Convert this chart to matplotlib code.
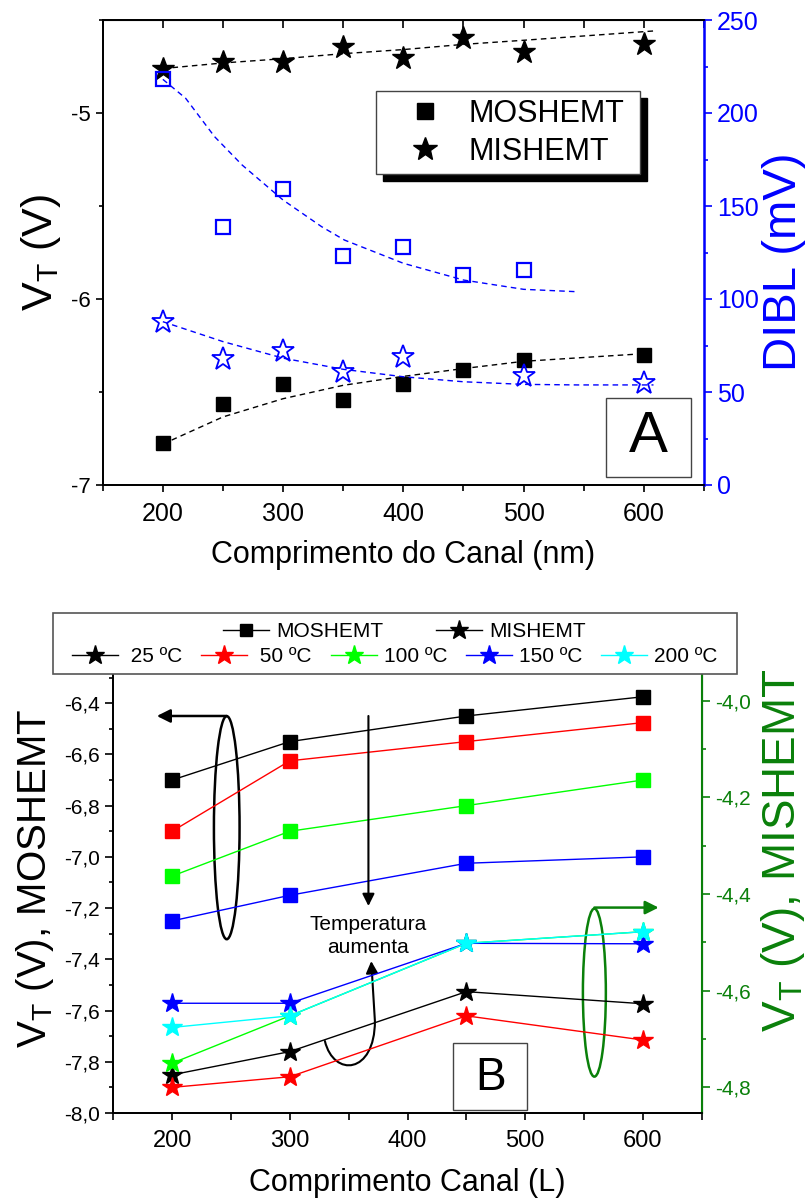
import matplotlib
matplotlib.use('Agg')
import matplotlib.pyplot as plt
from matplotlib.patches import Ellipse, Rectangle, FancyArrowPatch
from matplotlib.path import Path
from matplotlib.ticker import MultipleLocator, FuncFormatter, NullFormatter
from matplotlib.lines import Line2D

plt.rcParams['font.family'] = ['Liberation Sans', 'DejaVu Sans']
plt.rcParams['mathtext.fontset'] = 'custom'
plt.rcParams['mathtext.rm'] = 'Liberation Sans'
plt.rcParams['mathtext.it'] = 'Liberation Sans'

# ---------------- painel A ----------------
L_a = [200, 250, 300, 350, 400, 450, 500, 600]
vt_mos = [-6.774, -6.563, -6.455, -6.541, -6.455, -6.383, -6.326, -6.303]
vt_mis = [-4.761, -4.726, -4.726, -4.645, -4.702, -4.597, -4.672, -4.627]

L_dibl_mos = [200, 250, 300, 350, 400, 450, 500]
dibl_mos = [218.1, 138.5, 158.9, 123.1, 128.1, 112.9, 115.6]
L_dibl_mis = [200, 250, 300, 350, 400, 500, 600]
dibl_mis = [87.8, 67.6, 72.3, 60.6, 69.0, 58.6, 55.0]

# curvas de ajuste
fit_vt_mis_x = [200, 250, 300, 350, 400, 450, 500, 608]
fit_vt_mis_y = [-4.761, -4.731, -4.708, -4.681, -4.659, -4.631, -4.609, -4.559]
fit_vt_mos_x = [200, 250, 300, 350, 400, 450, 500, 600, 605]
fit_vt_mos_y = [-6.78, -6.634, -6.536, -6.464, -6.416, -6.374, -6.335, -6.294, -6.290]
fit_dibl_mos_x = [200, 219, 243, 266, 300, 332, 351, 400, 450, 500, 545]
fit_dibl_mos_y = [218.1, 207.9, 187.3, 172.0, 153.2, 138.9, 131.7, 119.2, 110.2, 105.2, 103.9]
fit_dibl_mis_x = [200, 250, 300, 350, 400, 450, 500, 545, 608]
fit_dibl_mis_y = [87.8, 77.1, 68.2, 62.2, 58.2, 55.5, 54.1, 53.8, 53.8]

# ---------------- painel B ----------------
L_b = [200, 300, 450, 600]
temps = ['25', '50', '100', '150', '200']
temp_colors = ['#000000', '#ff0000', '#00ff00', '#0000ff', '#00ffff']
# MOSHEMT (eixo esquerdo)
mos_25 = [-6.70, -6.55, -6.45, -6.375]
mos_50 = [-6.90, -6.625, -6.55, -6.476]
mos_100 = [-7.075, -6.90, -6.80, -6.70]
mos_150 = [-7.25, -7.15, -7.025, -7.00]
# MISHEMT (eixo direito)
mis_25 = [-4.774, -4.726, -4.602, -4.627]
mis_50 = [-4.800, -4.778, -4.652, -4.702]
mis_100 = [-4.750, -4.652, -4.502, -4.478]
mis_150 = [-4.626, -4.626, -4.502, -4.503]
mis_200 = [-4.676, -4.652, -4.502, -4.478]

W, H = 808, 1202
fig = plt.figure(figsize=(W / 100, H / 100), dpi=100)

def fx(px):
    return px / W

def fy(py):
    return 1 - py / H

# ======== A ========
ax1 = fig.add_axes([fx(102.7), fy(485), fx(704 - 102.7), (485 - 20) / H])
ax2 = ax1.twinx()

ax1.plot(fit_vt_mis_x, fit_vt_mis_y, ls=(0, (4, 3)), color='k', lw=1)
ax1.plot(fit_vt_mos_x, fit_vt_mos_y, ls=(0, (4, 3)), color='k', lw=1)
ax1.plot(L_a, vt_mos, ls='none', marker='s', ms=10, color='k')
ax1.plot(L_a, vt_mis, ls='none', marker='*', ms=17, color='k')

ax2.plot(fit_dibl_mos_x, fit_dibl_mos_y, ls=(0, (4, 3)), color='blue', lw=1)
ax2.plot(fit_dibl_mis_x, fit_dibl_mis_y, ls=(0, (4, 3)), color='blue', lw=1)
ax2.plot(L_dibl_mos, dibl_mos, ls='none', marker='s', ms=10, mfc='none', mec='blue', mew=1.6)
ax2.plot(L_dibl_mis, dibl_mis, ls='none', marker='*', ms=17, mfc='none', mec='blue', mew=1.3)

ax1.set_xlim(150, 650)
ax1.set_ylim(-7, -4.5)
ax2.set_ylim(0, 250)
ax1.xaxis.set_major_locator(MultipleLocator(100))
ax1.xaxis.set_minor_locator(MultipleLocator(50))
ax1.yaxis.set_major_locator(MultipleLocator(1))
ax1.yaxis.set_minor_locator(MultipleLocator(0.5))
ax2.yaxis.set_major_locator(MultipleLocator(50))
ax2.yaxis.set_minor_locator(MultipleLocator(25))
ax1.yaxis.set_major_formatter(FuncFormatter(lambda v, p: '%d' % v))

ax1.tick_params(axis='x', which='both', direction='out', labelsize=18, top=False, width=1.2, pad=7)
ax1.tick_params(axis='x', which='major', length=5)
ax1.tick_params(axis='x', which='minor', length=4)
ax1.tick_params(axis='y', which='both', direction='out', labelsize=16, right=False, width=1.2)
ax1.tick_params(axis='y', which='major', length=5)
ax1.tick_params(axis='y', which='minor', length=3)
ax2.tick_params(axis='y', which='both', direction='out', colors='blue', labelsize=18, width=1.2)
ax2.tick_params(axis='y', which='major', length=6)
ax2.tick_params(axis='y', which='minor', length=3)
ax2.spines['right'].set_color('blue')
ax2.spines['right'].set_linewidth(1.8)
for s in ['left', 'top', 'bottom']:
    ax1.spines[s].set_linewidth(1.3)
    ax2.spines[s].set_linewidth(1.3)

sec = ax1.secondary_xaxis('top')
sec.xaxis.set_major_locator(MultipleLocator(50))
sec.xaxis.set_major_formatter(NullFormatter())
sec.tick_params(direction='in', length=6, width=1.2)

ax1.set_xlabel('Comprimento do Canal (nm)', fontsize=22, labelpad=10)
ax1.set_ylabel(r'V$_\mathrm{T}$ (V)', fontsize=31, labelpad=6)
ax2.set_ylabel('DIBL (mV)', fontsize=34, color='blue')
ax2.yaxis.set_label_coords(1.096, 0.48)

# legenda A com sombra
fig.patches.append(Rectangle((fx(383), fy(181)), (640 - 376) / W, (174 - 90.7) / H,
                             transform=fig.transFigure, facecolor='k', edgecolor='k', zorder=5))
fig.patches.append(Rectangle((fx(376), fy(174)), (640 - 376) / W, (174 - 90.7) / H,
                             transform=fig.transFigure, facecolor='white', edgecolor='#444444',
                             lw=1, zorder=6))
hA = [Line2D([], [], ls='none', marker='s', ms=12, color='k'),
      Line2D([], [], ls='none', marker='*', ms=18, color='k')]
legA = fig.legend(hA, ['MOSHEMT', 'MISHEMT'], loc='center', bbox_to_anchor=(fx(517), fy(133)),
                  frameon=False, fontsize=22, handlelength=1.0, handletextpad=0.95,
                  labelspacing=0.25, borderpad=0)
legA.set_zorder(7)

ax1.add_patch(Rectangle((568.5, -6.957), 70.5, 0.427, fill=False, ec='#444444', lw=1, zorder=4))
ax1.text(603.7, -6.744, 'A', fontsize=42, ha='center', va='center')

# ======== B ========
ax3 = fig.add_axes([fx(113.3), fy(1113), fx(701.7 - 113.3), (1113 - 675) / H])
ax4 = ax3.twinx()

mos_series = [mos_25, mos_50, mos_100, mos_150]
for vals, c in zip(mos_series, temp_colors):
    ax3.plot(L_b, vals, color=c, lw=1, marker='s', ms=10, mec=c)

mis_series = [mis_25, mis_50, mis_100, mis_150, mis_200]
for vals, c in zip(mis_series, temp_colors):
    ax4.plot(L_b, vals, color=c, lw=1, marker='*', ms=15, mec=c)

comma = FuncFormatter(lambda v, p: ('%.1f' % v).replace('.', ','))
ax3.set_xlim(150, 650)
ax3.set_ylim(-8.0, -6.29)
ax4.set_ylim(-4.853, -3.947)
ax3.xaxis.set_major_locator(MultipleLocator(100))
ax3.xaxis.set_minor_locator(MultipleLocator(50))
ax3.yaxis.set_major_locator(MultipleLocator(0.2))
ax3.yaxis.set_minor_locator(MultipleLocator(0.1))
ax4.yaxis.set_major_locator(MultipleLocator(0.2))
ax4.yaxis.set_minor_locator(MultipleLocator(0.1))
ax3.yaxis.set_major_formatter(comma)
ax4.yaxis.set_major_formatter(comma)

ax3.tick_params(axis='x', which='both', direction='out', labelsize=17, top=False, width=1.2,
                length=5, pad=7)
ax3.tick_params(axis='y', which='both', direction='out', labelsize=15, right=False, width=1.2)
ax3.tick_params(axis='y', which='major', length=6)
ax3.tick_params(axis='y', which='minor', length=3)
gcol = '#0a800a'
ax4.tick_params(axis='y', which='both', direction='out', colors=gcol, labelsize=15, width=1.2)
ax4.tick_params(axis='y', which='major', length=6)
ax4.tick_params(axis='y', which='minor', length=3)
ax4.spines['right'].set_color(gcol)
ax4.spines['right'].set_linewidth(1.5)
for a in (ax3, ax4):
    a.spines['top'].set_visible(False)
    a.spines['left'].set_linewidth(1.3)
    a.spines['bottom'].set_linewidth(1.3)

ax3.set_xlabel('Comprimento Canal (L)', fontsize=22, labelpad=12)
ax3.set_ylabel(r'V$_\mathrm{T}$ (V), MOSHEMT', fontsize=29)
ax3.yaxis.set_label_coords(-0.098, 0.535)
ax4.set_ylabel(r'V$_\mathrm{T}$ (V), MISHEMT', fontsize=33, color=gcol)
ax4.yaxis.set_label_coords(1.097, 0.6)

# anotacoes
ax3.add_patch(Ellipse((246.4, -6.886), 21.8, 0.871, fill=False, ec='k', lw=1.8))
ax3.annotate('', xy=(187, -6.45), xytext=(246.4, -6.45),
             arrowprops=dict(arrowstyle='-|>', lw=1.8, color='k', mutation_scale=20,
                             shrinkA=0, shrinkB=0))
ax3.annotate('', xy=(366.8, -7.192), xytext=(366.8, -6.45),
             arrowprops=dict(arrowstyle='-|>', lw=1.5, color='k', mutation_scale=18,
                             shrinkA=0, shrinkB=0))
ax3.text(366.2, -7.309, 'Temperatura\naumenta', fontsize=15, ha='center', va='center',
         linespacing=1.25)
curve = Path([(329.8, -7.719), (337.3, -7.862), (372.3, -7.849), (372.3, -7.641), (369.2, -7.407)],
             [Path.MOVETO, Path.CURVE4, Path.CURVE4, Path.CURVE4, Path.LINETO])
ax3.add_patch(FancyArrowPatch(path=curve, arrowstyle='-|>', mutation_scale=18, lw=1.5, color='k'))

ax3.add_patch(Ellipse((558.8, -7.530), 19.5, 0.656, fill=False, ec=gcol, lw=1.8))
ax3.annotate('', xy=(613.4, -7.198), xytext=(558.8, -7.198),
             arrowprops=dict(arrowstyle='-|>', lw=1.8, color=gcol, mutation_scale=20,
                             shrinkA=0, shrinkB=0))

ax3.add_patch(Rectangle((439, -7.99), 62.8, 0.262, fill=False, ec='#444444', lw=1))
ax3.text(470.4, -7.862, 'B', fontsize=33, ha='center', va='center')

# legenda B
fig.patches.append(Rectangle((fx(53.3), fy(674.3)), (736.7 - 53.3) / W, (674.3 - 612.7) / H,
                             transform=fig.transFigure, fill=False, edgecolor='#555555', lw=1.2))
h1 = [Line2D([], [], color='k', lw=1, marker='s', ms=9),
      Line2D([], [], color='k', lw=1, marker='*', ms=14)]
fig.legend(h1, ['MOSHEMT', 'MISHEMT'], loc='center', bbox_to_anchor=(fx(404.5), fy(631.7)),
           ncol=2, frameon=False, fontsize=15, handlelength=2.2, handletextpad=0.35,
           columnspacing=2.5, borderpad=0)
h2 = [Line2D([], [], color=c, lw=1, marker='*', ms=14) for c in temp_colors]
lab2 = [(' %s ºC' % t) if len(t) < 3 else ('%s ºC' % t) for t in temps]
fig.legend(h2, lab2, loc='center', bbox_to_anchor=(fx(395), fy(656.7)),
           ncol=5, frameon=False, fontsize=15, handlelength=2.2, handletextpad=0.35,
           columnspacing=0.9, borderpad=0)

fig.savefig('out.png', dpi=100)
